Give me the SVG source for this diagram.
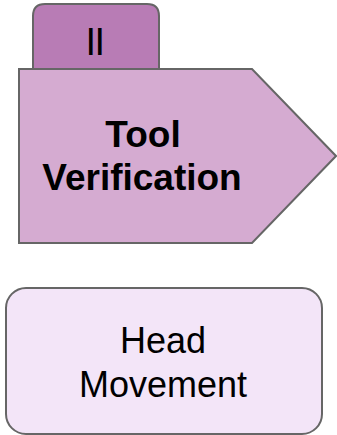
<svg xmlns="http://www.w3.org/2000/svg" width="337" height="435" viewBox="0 0 337 435">
  <style>
    .shape { stroke: #666666; stroke-width: 2; stroke-linejoin: miter; }
    .tab { fill: #b87cb5; }
    .step { fill: #d5abd1; }
    .task { fill: #f3e5f8; }
    .lbl { font-family: "Liberation Sans", Arial, sans-serif; fill: #000000; text-anchor: middle; }
    .bold { font-weight: bold; font-size: 37px; }
    .reg { font-size: 36px; }
    .mark { font-size: 38px; letter-spacing: -1.5px; }
  </style>
  <rect width="337" height="435" fill="#ffffff"/>

  <!-- stage marker tab + pentagon step -->
  <g id="tool-verification">
    <path class="shape tab" d="M33,69 V16 Q33,4 45,4 H147 Q159,4 159,16 V69 Z"/>
    <text class="lbl mark" x="94.5" y="55">II</text>
    <path class="shape step" d="M19,69 H252 L336,156 L252,243 H19 Z"/>
    <text class="lbl bold" x="143" y="147">Tool</text>
    <text class="lbl bold" x="142" y="190">Verification</text>
  </g>

  <!-- rounded task box -->
  <g id="head-movement">
    <rect class="shape task" x="6" y="288" width="316" height="146" rx="20" ry="20"/>
    <text class="lbl reg" x="163" y="353">Head</text>
    <text class="lbl reg" x="163" y="397">Movement</text>
  </g>

  <g id="connectors"></g>
</svg>
